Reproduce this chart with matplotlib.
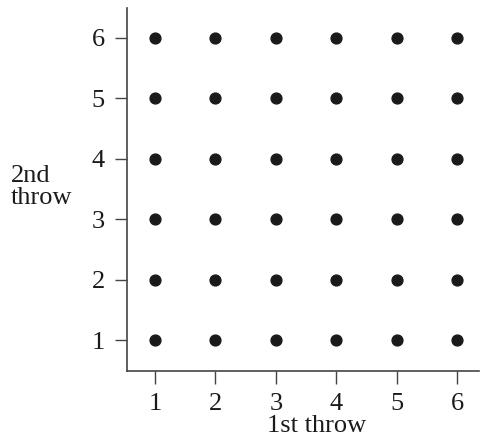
import matplotlib
matplotlib.use("Agg")
import matplotlib.pyplot as plt
import numpy as np

# outcomes of two throws of a die
first_throw = [1, 2, 3, 4, 5, 6]
second_throw = [1, 2, 3, 4, 5, 6]
tick_labels = ["1", "2", "3", "4", "5", "6"]

plt.rcParams['font.family'] = ['Liberation Serif', 'DejaVu Serif']

fig = plt.figure(figsize=(4.82, 4.43), dpi=100)
ax = fig.add_axes([0.2635, 0.1625, 0.73, 0.82])

X, Y = np.meshgrid(first_throw, second_throw)
ax.plot(X.ravel(), Y.ravel(), 'o', color='#1a1a1a', markersize=7.8, linestyle='none')

ax.set_xlim(0.538, 6.36)
ax.set_ylim(0.487, 6.5)
ax.set_xticks(first_throw)
ax.set_xticklabels(tick_labels)
ax.set_yticks(second_throw)
ax.set_yticklabels(tick_labels)

for s in ['top', 'right']:
    ax.spines[s].set_visible(False)
for s in ['left', 'bottom']:
    ax.spines[s].set_color('#444444')
    ax.spines[s].set_linewidth(1.2)

ax.tick_params(direction='out', length=9, width=1.0, color='#444444',
               labelsize=19, labelcolor='#1a1a1a', pad=7)

fig.text(0.656, 0.013, "1st throw", ha='center', va='bottom', fontsize=19, color='#1a1a1a')
fig.text(0.022, 0.578, "2nd\nthrow", ha='left', va='center', fontsize=19,
         color='#1a1a1a', linespacing=1.0)

fig.savefig("out.png", dpi=100)
